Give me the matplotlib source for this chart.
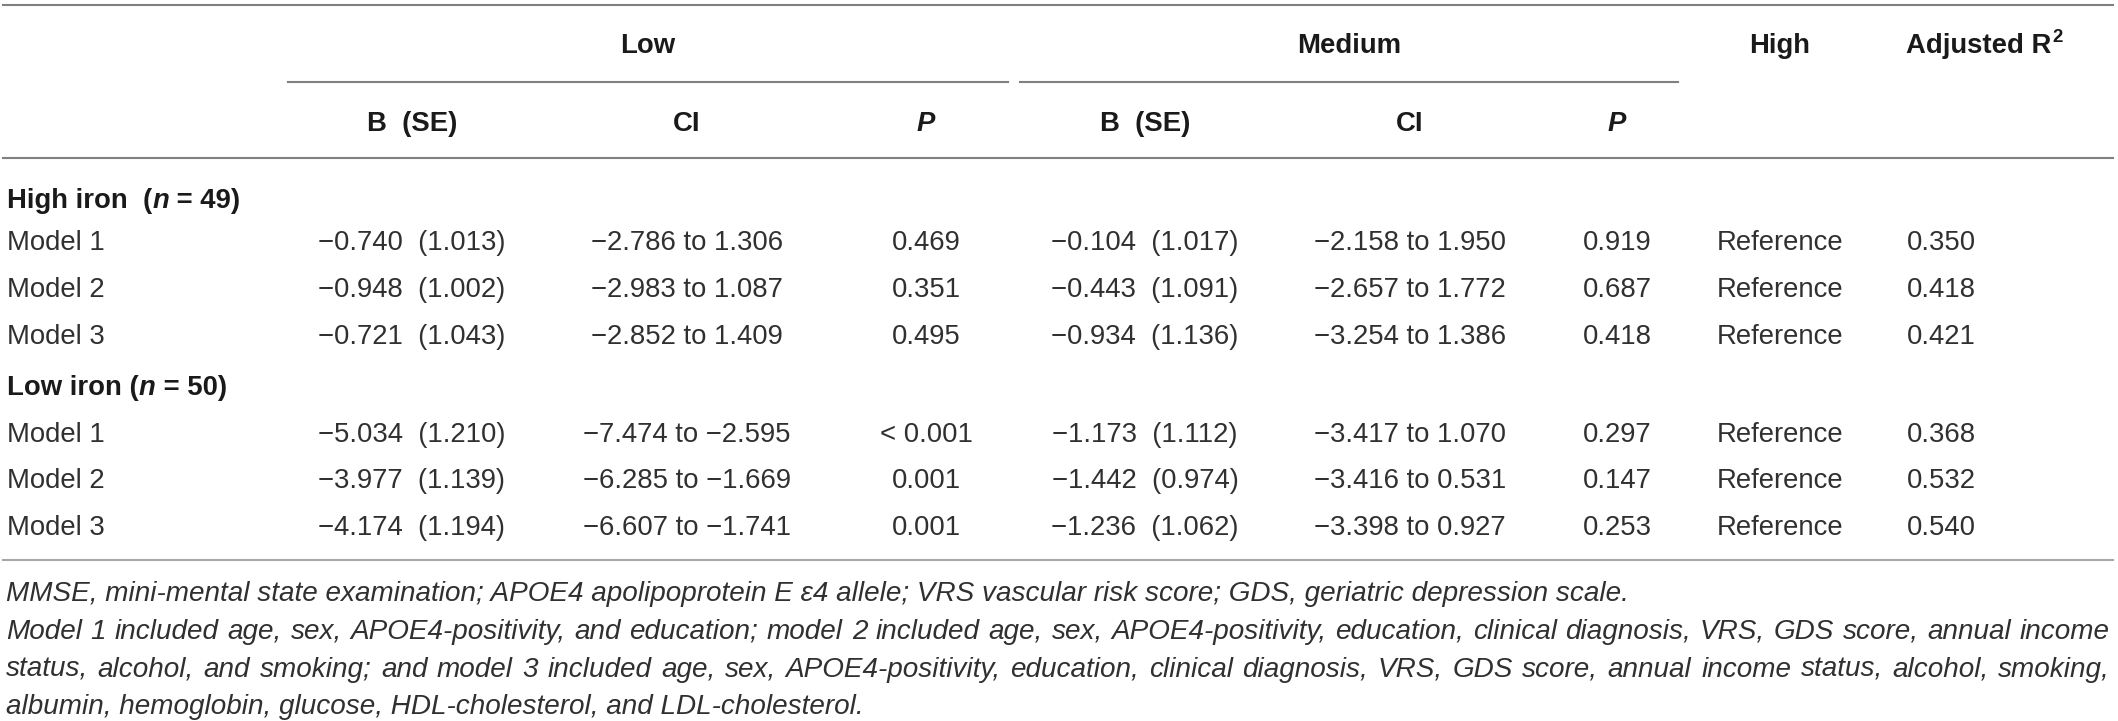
import matplotlib.pyplot as plt

W, H = 2118, 721

# ---- table data ----
col_groups = ["Low", "Medium"]
sub_headers = ["B  (SE)", "CI", "P"]
row_labels = ["Model 1", "Model 2", "Model 3"]
group_names = ["High iron", "Low iron"]
group_n = [49, 50]

high_low_b = [-0.740, -0.948, -0.721]
high_low_se = [1.013, 1.002, 1.043]
high_low_ci = [(-2.786, 1.306), (-2.983, 1.087), (-2.852, 1.409)]
high_low_p = ["0.469", "0.351", "0.495"]
high_med_b = [-0.104, -0.443, -0.934]
high_med_se = [1.017, 1.091, 1.136]
high_med_ci = [(-2.158, 1.950), (-2.657, 1.772), (-3.254, 1.386)]
high_med_p = ["0.919", "0.687", "0.418"]
high_r2 = [0.350, 0.418, 0.421]

low_low_b = [-5.034, -3.977, -4.174]
low_low_se = [1.210, 1.139, 1.194]
low_low_ci = [(-7.474, -2.595), (-6.285, -1.669), (-6.607, -1.741)]
low_low_p = ["< 0.001", "0.001", "0.001"]
low_med_b = [-1.173, -1.442, -1.236]
low_med_se = [1.112, 0.974, 1.062]
low_med_ci = [(-3.417, 1.070), (-3.416, 0.531), (-3.398, 0.927)]
low_med_p = ["0.297", "0.147", "0.253"]
low_r2 = [0.368, 0.532, 0.540]

footnotes = [
    "MMSE, mini-mental state examination; APOE4 apolipoprotein E \u03b54 allele; "
    "VRS vascular risk score; GDS, geriatric depression scale.",
    "Model 1 included age, sex, APOE4-positivity, and education; model 2 included age, sex, "
    "APOE4-positivity, education, clinical diagnosis, VRS, GDS score, annual income",
    "status, alcohol, and smoking; and model 3 included age, sex, APOE4-positivity, education, "
    "clinical diagnosis, VRS, GDS score, annual income status, alcohol, smoking,",
    "albumin, hemoglobin, glucose, HDL-cholesterol, and LDL-cholesterol.",
]
justify = [False, True, True, False]

FONT = "Liberation Sans"
FS = 19.8
TXT = "#303030"
LINE = "#808080"


def num(v):
    return f"{v:.3f}".replace("-", "\u2212")


def b_se(b, se):
    return f"{num(b)}  ({se:.3f})"


def ci(pair):
    return f"{num(pair[0])} to {num(pair[1])}"


fig = plt.figure(figsize=(W / 100, H / 100), dpi=100)
ax = fig.add_axes([0, 0, 1, 1])
ax.set_xlim(0, W)
ax.set_ylim(H, 0)
ax.axis("off")
renderer = fig.canvas.get_renderer()


def put(x, y, s, ha="center", size=FS, **kw):
    # y is the visual centre of the capitals
    base = y + 0.716 * size * 100 / 72 / 2
    kw.setdefault("color", TXT)
    return ax.text(x, base, s, ha=ha, va="baseline", family=FONT,
                   fontsize=size, **kw)


def width(s, size=FS, **kw):
    t = ax.text(0, 0, "|" + s + "|", family=FONT, fontsize=size, **kw)
    t2 = ax.text(0, 0, "||", family=FONT, fontsize=size, **kw)
    w = (t.get_window_extent(renderer).width
         - t2.get_window_extent(renderer).width)
    t.remove()
    t2.remove()
    return w


def put_runs(x, y, runs, size=FS):
    for s, kw in runs:
        put(x, y, s, ha="left", size=size, **kw)
        x += width(s, size=size, **kw)


# ---- rules ----
ax.plot([3, 2113], [5, 5], color=LINE, lw=1.5)
ax.plot([288, 1008], [82, 82], color=LINE, lw=1.5)
ax.plot([1020, 1678], [82, 82], color=LINE, lw=1.5)
ax.plot([3, 2113], [158, 158], color=LINE, lw=1.5)
ax.plot([3, 2113], [560, 560], color="#a8a8a8", lw=1.5)

# ---- headers ----
bold = dict(fontweight="bold", color="#1a1a1a")
put(648, 43, col_groups[0], **bold)
put(1349, 43, col_groups[1], **bold)
put(1780, 43, "High", **bold)
put(1906, 43, "Adjusted R", ha="left", **bold)
wr = width("Adjusted R", **bold)
put(1906 + wr + 1, 35, "2", ha="left", size=FS * 0.68, **bold)

col_x = [412, 687, 926, 1145, 1410, 1617]
for i, cx in enumerate(col_x):
    s = sub_headers[i % 3]
    if s == "P":
        put(cx, 121, s, fontstyle="italic", **bold)
    else:
        put(cx, 121, s, **bold)

# ---- body ----
group_y = [198, 385]
row_y = [[240, 287, 334], [432, 478, 525]]
group_data = [
    (high_low_b, high_low_se, high_low_ci, high_low_p,
     high_med_b, high_med_se, high_med_ci, high_med_p, high_r2),
    (low_low_b, low_low_se, low_low_ci, low_low_p,
     low_med_b, low_med_se, low_med_ci, low_med_p, low_r2),
]
gaps = ["  (", " ("]
for g, name in enumerate(group_names):
    put_runs(7, group_y[g], [
        (name + gaps[g], bold),
        ("n", dict(bold, fontstyle="italic")),
        (f" = {group_n[g]})", bold),
    ])
    lb, lse, lci, lp, mb, mse, mci, mp, r2 = group_data[g]
    for i, lab in enumerate(row_labels):
        y = row_y[g][i]
        put(7, y, lab, ha="left")
        put(col_x[0], y, b_se(lb[i], lse[i]))
        put(col_x[1], y, ci(lci[i]))
        put(col_x[2], y, lp[i])
        put(col_x[3], y, b_se(mb[i], mse[i]))
        put(col_x[4], y, ci(mci[i]))
        put(col_x[5], y, mp[i])
        put(1780, y, "Reference")
        put(1907, y, f"{r2[i]:.3f}", ha="left")

# ---- footnotes ----
ital = dict(fontstyle="italic")
fs_note = FS * (1622 / width(footnotes[0], **ital))
note_y = [591, 629, 667, 704]
x0, x1 = 6, 2110
for line, y, just in zip(footnotes, note_y, justify):
    if not just:
        put(x0, y, line, ha="left", size=fs_note, **ital)
        continue
    words = line.split(" ")
    ws = [width(w, size=fs_note, **ital) for w in words]
    gap = (x1 - x0 - sum(ws)) / (len(words) - 1)
    x = x0
    for w, wd in zip(words, ws):
        put(x, y, w, ha="left", size=fs_note, **ital)
        x += wd + gap

fig.savefig("out.png", dpi=100)
